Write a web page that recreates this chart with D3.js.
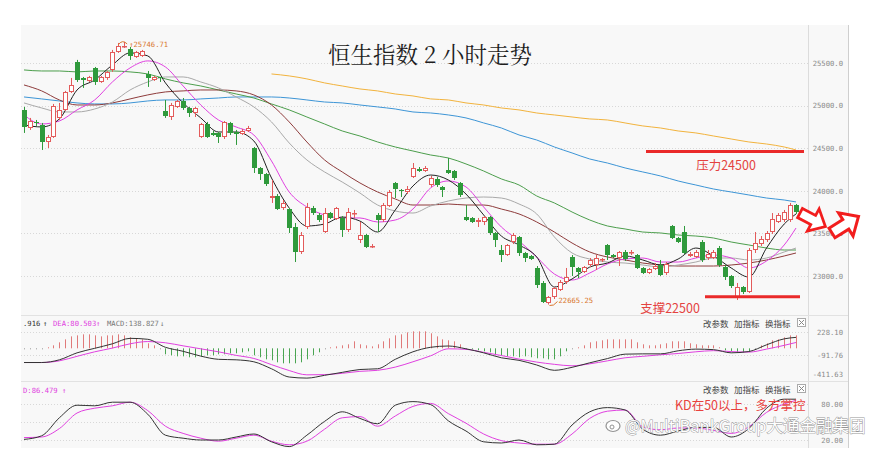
<!DOCTYPE html>
<html><head><meta charset="utf-8">
<script src="https://cdn.jsdelivr.net/npm/d3@7"></script>
<style>body{margin:0;background:#fff}svg{display:block}</style>
</head><body><svg id="c" width="870" height="458"></svg>
<script>
// ---------- DATA ----------
const opens=[24949,24737,24808,24772,24573,24632,24855,24949,25160,25512,
25324,25289,25442,25277,25324,25418,25630,25688,25665,25571,
25583,25371,25301,25336,24937,24866,24984,25054,24972,24913,
24632,24784,24679,24679,24632,24796,24690,24667,24702,24502,
24268,24197,23915,23939,23798,23786,23575,23282,23575,23798,
23716,23516,23739,23669,23681,23540,23728,23422,23481,23346,
23716,23657,23822,24092,24009,23986,24162,24256,24232,24068,
24139,24045,24244,24232,24092,23692,23681,23634,23634,23692,
23505,23305,23246,23399,23458,23270,23235,23094,22918,22683,
22753,22835,22929,23223,23094,23047,23129,23129,23188,23364,
23246,23211,23282,23264,23246,23094,23035,23082,23129,23035,
23587,23446,23516,23235,23223,23399,23211,23211,23328,23105,
23000,22753,22871,22812,23305,23375,23422,23516,23634,23657,
23657,23833];
const closes=[24749,24819,24796,24573,24632,24996,24949,25160,25242,25301,
25301,25336,25277,25336,25395,25630,25700,25700,25583,25630,
25641,25324,25336,25324,24878,25007,25054,24972,24913,24972,
24784,24632,24655,24632,24808,24679,24667,24702,24737,24268,
24197,24080,23939,23786,23857,23563,23282,23481,23810,23739,
23657,23739,23681,23798,23540,23751,23739,23481,23340,23352,
23657,23833,23986,24021,23998,24021,24268,24232,24268,24150,
24068,24009,24209,24150,23951,23657,23634,23657,23692,23505,
23422,23246,23364,23481,23270,23211,23199,22894,22695,22753,
22859,22929,22988,23105,23047,23105,23188,23211,23199,23246,
23223,23282,23199,23276,23094,23035,23082,23117,23011,23141,
23446,23399,23270,23258,23282,23188,23258,23282,23129,22988,
22882,22871,22812,23305,23387,23434,23505,23669,23716,23751,
23833,23751];
const highs=[24984,24855,24831,24796,24655,25019,25031,25172,25324,25536,
25336,25348,25453,25348,25406,25653,25735,25746.71,25688,25641,
25653,25406,25348,25336,25066,25031,25066,25089,24984,24984,
24796,24808,24702,24690,24819,24808,24714,24726,24761,24514,
24279,24209,24127,23962,23892,23798,23622,23516,23857,23822,
23739,23798,23751,23810,23704,23798,23775,23634,23493,23375,
23739,23857,24009,24103,24021,24056,24326,24279,24291,24174,
24162,24056,24385,24244,24103,23833,23692,23681,23704,23704,
23516,23364,23375,23505,23469,23282,23246,23117,22941,22765,
22871,22953,23094,23246,23105,23117,23211,23246,23211,23375,
23258,23293,23305,23305,23258,23105,23094,23152,23188,23164,
23598,23458,23587,23282,23305,23422,23305,23305,23352,23129,
23011,22918,22882,23328,23516,23469,23528,23739,23739,23775,
23857,23845];
const lows=[24679,24714,24761,24479,24502,24620,24831,24937,25148,25277,
25207,25277,25242,25266,25301,25395,25618,25676,25536,25559,
25571,25219,25289,25277,24855,24831,24972,24949,24866,24866,
24620,24620,24643,24561,24608,24655,24538,24655,24690,24209,
24127,24056,23857,23775,23775,23505,23164,23258,23552,23716,
23634,23505,23669,23657,23458,23516,23681,23387,23328,23328,
23516,23634,23810,23915,23927,23962,24150,24221,24221,24045,
24045,23927,24197,24127,23927,23645,23622,23575,23598,23481,
23340,23164,23235,23375,23235,23164,23188,22859,22683,22665.25,
22730,22824,22906,23000,22976,23035,23105,23070,23164,23188,
23211,23117,23176,23246,23082,23023,23023,23070,23000,23011,
23434,23387,23258,23223,23211,23164,23188,23199,23105,22953,
22859,22718,22788,22800,23270,23352,23399,23493,23622,23634,
23634,23728];

// moving averages, read every 3rd bar (last point = last bar)
const maStep=3;
const ma5=[24772,24749,24843,25183,25301,25477,25618,25583,25266,25031,
24855,24690,24690,24585,24150,23798,23587,23610,23692,23645,
23516,23775,24056,24185,24127,23962,23716,23469,23364,23223,
22871,22965,23105,23152,23235,23188,23129,23199,23328,23235,
23094,22988,23328,23610,23728];
const ma10=[24890,24784,24819,24949,25066,25277,25442,25524,25453,25230,
25007,24831,24749,24655,24350,23986,23810,23716,23681,23681,
23634,23657,23786,24033,24115,24045,23810,23575,23411,23223,
23023,22953,23035,23141,23199,23211,23164,23164,23211,23246,
23211,23094,23176,23364,23563];
const ma20=[25031,24972,24925,24925,24960,25042,25183,25277,25336,25336,
25277,25207,25101,24984,24808,24561,24362,24221,24103,23974,
23833,23763,23739,23822,23880,23915,23927,23915,23845,23728,
23458,23270,23199,23164,23152,23129,23105,23129,23164,23211,
23211,23188,23211,23282,23328];
const ma30=[25242,25172,25066,25007,25007,25031,25078,25125,25160,25172,
25183,25183,25172,25125,25007,24808,24573,24362,24221,24092,
23986,23904,23833,23833,23845,23833,23833,23786,23728,23634,
23516,23387,23282,23223,23188,23152,23129,23117,23117,23117,
23129,23152,23188,23235,23270];
const ma60=[25418,25406,25406,25395,25406,25406,25395,25371,25313,25266,
25230,25183,25136,25089,25019,24949,24866,24784,24702,24643,
24573,24514,24467,24420,24385,24315,24232,24139,24068,23939,
23857,23751,23657,23587,23552,23516,23505,23481,23469,23446,
23399,23364,23328,23305,23305];
const ma120=[25101,25078,25054,25031,25019,25019,25031,25054,25066,25066,
25078,25089,25101,25101,25101,25089,25066,25042,25031,25007,
24984,24960,24925,24913,24890,24855,24796,24737,24655,24596,
24514,24444,24373,24326,24268,24221,24174,24115,24068,24021,
23986,23951,23915,23892,23869];
const ma250=[null,null,null,null,null,null,null,null,null,null,null,null,null,null,
25371,25348,25313,25266,25230,25195,25172,25136,25113,25078,25066,25031,25007,24972,24949,
24913,24890,24866,24843,24831,24796,24761,24737,24702,24679,24643,24608,24573,24549,24514,24479];

// MACD
const difVals=[-195,-195,-158,-62,0,62,137,124,14,-41,
-107,-151,-158,-185,-281,-394,-409,-371,-330,-291,
-281,-151,-48,14,32,-7,-62,-130,-165,-229,
-302,-261,-199,-141,-80,-76,-76,-34,-11,-18,
-62,-44,48,130,150];
const deaVals=[-195,-195,-172,-110,-48,3,62,93,76,34,
-7,-48,-97,-139,-224,-305,-364,-361,-343,-316,
-302,-258,-185,-103,-7,-14,-55,-99,-148,-189,
-220,-240,-213,-172,-130,-110,-89,-71,-48,-32,
-45,-52,-11,41,80];
const macdHist=[-4,-4,-4,4,14,41,82,123,164,178,
192,192,178,164,178,178,192,178,151,137,
123,69,41,4,-82,-96,-110,-110,-123,-123,
-110,-96,-96,-82,-82,-69,-69,-55,-41,-96,
-123,-151,-164,-192,-206,-206,-206,-192,-151,-96,
-55,4,14,27,41,55,96,55,41,27,
55,96,137,178,192,219,233,233,233,206,
164,123,110,96,55,4,-14,-27,-41,-55,
-82,-96,-110,-110,-123,-110,-123,-137,-137,-151,
-151,-110,-41,4,14,41,82,96,110,123,
123,123,123,123,82,55,41,41,55,69,
96,96,96,69,55,41,41,41,14,-27,
-41,-55,-55,-41,4,41,69,110,123,151,
178,178];
// KD
const kVals=[21,27,57,78,77,83,83,63,28,23,20,20,25,30,17,9,28,51,67,56,
47,78,84,79,52,35,17,15,20,12,13,45,67,74,70,38,28,35,41,41,25,39,73,88,88];
const dVals=[24,25,39,65,73,77,83,69,43,31,23,18,23,28,18,12,18,38,57,59,
43,60,76,81,64,48,30,19,15,13,13,30,56,68,70,42,37,40,40,36,31,42,66,80,86];

const priceTicks=[23000,23500,24000,24500,25000,25500];
const macdTicks=[228.10,-91.76,-411.63];
const kdTicks=[80,20];
const kdGrid=[80,50,20];
const resistanceLevel=24460, supportLevel=22757;
const highIdx=17, lowIdx=89;

// ---------- DRAW ----------
const N=opens.length;
const svg=d3.select('#c');
const L=21,R=808,AX=848,T=25,B=448;
const mainBot=315, macdBot=381;
const x=d3.scaleLinear().domain([0,N-1]).range([24,796]);
const y=d3.scaleLinear().domain([22500,25800]).range([318.6,37.4]);
const ym=d3.scaleLinear().domain([-411.63,228.10]).range([378.3,331.7]);
const yk=d3.scaleLinear().domain([20,80]).range([440,404]);
const RED='#e35b5b', GRN='#2f9a3c';
const mono='"DejaVu Sans Mono","Liberation Mono",monospace';
const cjk='"Noto Sans CJK SC","Noto Sans",sans-serif';

svg.append('rect').attr('x',L).attr('y',T).attr('width',AX-L).attr('height',B-T).attr('fill','#f8f8f8');
svg.append('line').attr('x1',R+0.5).attr('x2',R+0.5).attr('y1',T).attr('y2',B).attr('stroke','#dcdcdc');
svg.append('line').attr('x1',AX+0.5).attr('x2',AX+0.5).attr('y1',T).attr('y2',B).attr('stroke','#cfcfcf');
[mainBot,macdBot].forEach(v=>svg.append('line').attr('x1',L).attr('x2',AX).attr('y1',v+0.5).attr('y2',v+0.5).attr('stroke','#e2e2e2'));

const defs=svg.append('defs');
function clip(id,y0,y1){defs.append('clipPath').attr('id',id).append('rect').attr('x',L).attr('y',y0).attr('width',R-L).attr('height',y1-y0);}
clip('cm',T,mainBot);clip('cd',mainBot,macdBot);clip('ck',macdBot,B);

// grids
const grid=svg.append('g').attr('stroke','#d8d8d8').attr('stroke-dasharray','1,2');
priceTicks.forEach(v=>grid.append('line').attr('x1',L).attr('x2',R).attr('y1',Math.round(y(v))+0.5).attr('y2',Math.round(y(v))+0.5));
macdTicks.slice(0,2).forEach(v=>grid.append('line').attr('x1',L).attr('x2',R).attr('y1',Math.round(ym(v))+0.5).attr('y2',Math.round(ym(v))+0.5));
kdGrid.forEach(v=>grid.append('line').attr('x1',L).attr('x2',R).attr('y1',Math.round(yk(v))+0.5).attr('y2',Math.round(yk(v))+0.5));

// axes (labels right-aligned in the side column)
function axis(scale,ticks,fmt,shift){
  const g=svg.append('g').attr('transform','translate(843,0)')
    .call(d3.axisLeft(scale).tickValues(ticks).tickFormat(fmt).tickSize(0).tickPadding(0));
  g.select('.domain').remove();
  g.selectAll('text').attr('font-family',mono).attr('font-size',7.2).attr('fill','#8a8a8a')
   .attr('dy',(d)=>shift?shift(d):'0.32em');
}
axis(y,priceTicks,d=>d.toFixed(1));
axis(ym,macdTicks,d=>d.toFixed(2),d=>d<-400?'-0.2em':'0.32em');
axis(yk,kdTicks,d=>d.toFixed(2));

// title
svg.append('text').attr('x',430).attr('y',63).attr('text-anchor','middle')
 .attr('font-family','"Noto Serif CJK SC","Noto Sans CJK SC",serif').attr('font-size',22.5).attr('fill','#1e1e1e')
 .text('恒生指数 2 小时走势');

// main panel
const gm=svg.append('g').attr('clip-path','url(#cm)');
const maIdx=k=>Math.min(k*maStep,N-1);
const maLine=d3.line().defined(d=>d!=null).x((d,k)=>x(maIdx(k))).y(d=>y(d)).curve(d3.curveMonotoneX);
[[ma250,'#f2b33d'],[ma120,'#3d95d6'],[ma60,'#4c9e4c'],[ma30,'#8e3b3b'],[ma20,'#a9a9a9'],[ma10,'#e040e0'],[ma5,'#222']]
 .forEach(([d,c])=>gm.append('path').datum(d).attr('d',maLine).attr('fill','none').attr('stroke',c).attr('stroke-width',1));

const cg=gm.append('g');
d3.range(N).forEach(i=>{
  const xi=Math.round(x(i)), up=closes[i]>=opens[i], col=up?RED:GRN;
  cg.append('line').attr('x1',xi+0.5).attr('x2',xi+0.5).attr('y1',y(highs[i])).attr('y2',y(lows[i])).attr('stroke',col);
  const yt=Math.round(y(Math.max(opens[i],closes[i]))), yb=Math.round(y(Math.min(opens[i],closes[i])));
  const h=Math.max(1,yb-yt);
  if(up){cg.append('rect').attr('x',xi-1.5).attr('y',yt+0.5).attr('width',4).attr('height',Math.max(0.5,h-1)).attr('fill','#fff').attr('stroke',col);}
  else {cg.append('rect').attr('x',xi-2).attr('y',yt).attr('width',5).attr('height',h).attr('fill',col);}
});

// high / low marks
const orange='#d9772e';
const hx=x(highIdx), hy=y(highs[highIdx]);
svg.append('path').attr('d',`M${hx-6},${hy+3} Q${hx-2},${hy-3} ${hx+3},${hy+2}`).attr('fill','none').attr('stroke',orange);
svg.append('text').attr('x',hx+5).attr('y',hy+5).attr('font-family',mono).attr('font-size',7.2).attr('fill',orange).text('\u219125746.71');
const lx=x(lowIdx), ly=y(lows[lowIdx]);
svg.append('path').attr('d',`M${lx+1},${ly+1} Q${lx+5},${ly+2} ${lx+9},${ly-3}`).attr('fill','none').attr('stroke',orange);
svg.append('text').attr('x',lx+10).attr('y',ly-2).attr('font-family',mono).attr('font-size',7.2).attr('fill',orange).text('22665.25');

// support / resistance
svg.append('line').attr('x1',646).attr('x2',804).attr('y1',y(resistanceLevel)).attr('y2',y(resistanceLevel)).attr('stroke','#ea2a2a').attr('stroke-width',3);
svg.append('line').attr('x1',705).attr('x2',800).attr('y1',y(supportLevel)).attr('y2',y(supportLevel)).attr('stroke','#ea2a2a').attr('stroke-width',3);
svg.append('text').attr('x',726).attr('y',170).attr('text-anchor','middle').attr('font-family',cjk).attr('font-size',12.5).attr('fill','#e4433f').text('压力24500');
svg.append('text').attr('x',670).attr('y',313).attr('text-anchor','middle').attr('font-family',cjk).attr('font-size',12.5).attr('fill','#e4433f').text('支撑22500');

// MACD panel
const gd=svg.append('g').attr('clip-path','url(#cd)');
macdHist.forEach((v,i)=>{
  const xi=Math.round(x(i))+0.5;
  const small=Math.abs(v)<10;
  gd.append('line').attr('x1',xi).attr('x2',xi).attr('y1',ym(0)).attr('y2',small?ym(0)+1:ym(v))
   .attr('stroke',small?'#999':(v>0?'#e07a7a':'#4aa552')).attr('stroke-width',1);
});
const mLine=d3.line().x((d,k)=>x(maIdx(k))).y(d=>ym(d)).curve(d3.curveMonotoneX);
gd.append('path').datum(deaVals).attr('d',mLine).attr('fill','none').attr('stroke','#e040e0');
gd.append('path').datum(difVals).attr('d',mLine).attr('fill','none').attr('stroke','#333');

// MACD header
const hdr=svg.append('g').attr('font-family',mono).attr('font-size',7.2);
hdr.append('text').attr('x',23).attr('y',326).attr('fill','#333').text('.916');
hdr.append('text').attr('x',43).attr('y',326).attr('fill','#333').text('\u2191');
hdr.append('text').attr('x',53).attr('y',326).attr('fill','#e040e0').text('DEA:80.503');
hdr.append('text').attr('x',96).attr('y',326).attr('fill','#e040e0').text('\u2191');
hdr.append('text').attr('x',107).attr('y',326).attr('fill','#777').text('MACD:138.827');
hdr.append('text').attr('x',160).attr('y',326).attr('fill','#777').text('\u2193');

function tools(yy){
  const g=svg.append('g').attr('font-family',cjk).attr('font-size',8.5).attr('fill','#444');
  g.append('text').attr('x',703).attr('y',yy).text('改参数');
  g.append('text').attr('x',734).attr('y',yy).text('加指标');
  g.append('text').attr('x',765).attr('y',yy).text('换指标');
  g.append('rect').attr('x',797.5).attr('y',yy-8.5).attr('width',8).attr('height',8).attr('fill','#fff').attr('stroke','#aaa');
  g.append('path').attr('d',`M${799},${yy-7} L${804},${yy-2} M${804},${yy-7} L${799},${yy-2}`).attr('stroke','#888');
}
tools(327);tools(393);

// KD panel
const gk=svg.append('g').attr('clip-path','url(#ck)');
const kLine=d3.line().x((d,k)=>x(maIdx(k))).y(d=>yk(d)).curve(d3.curveMonotoneX);
gk.append('path').datum(dVals).attr('d',kLine).attr('fill','none').attr('stroke','#e040e0');
gk.append('path').datum(kVals).attr('d',kLine).attr('fill','none').attr('stroke','#333');
svg.append('text').attr('x',23).attr('y',393).attr('font-family',mono).attr('font-size',7.2).attr('fill','#e040e0').text('D:86.479 \u2191');
svg.append('text').attr('x',675).attr('y',410).attr('font-family',cjk).attr('font-size',12.5).attr('fill','#e8423e').text('KD在50以上，多方掌控');

// arrows
const arrowPath='M0,-4.5 L13,-4.5 L13,-11 L25,0 L13,11 L13,4.5 L0,4.5 Z';
svg.append('path').attr('d',arrowPath).attr('transform','translate(800,213) rotate(28) scale(1.15)')
 .attr('fill','#fff').attr('stroke','#f21d1d').attr('stroke-width',2.4).attr('stroke-linejoin','miter');
svg.append('path').attr('d',arrowPath).attr('transform','translate(832,233) rotate(-32) scale(1.25)')
 .attr('fill','#fff').attr('stroke','#f21d1d').attr('stroke-width',2.4).attr('stroke-linejoin','miter');

// watermark
const wm=svg.append('g').attr('opacity',0.9);
wm.append('ellipse').attr('cx',613).attr('cy',426).attr('rx',7).attr('ry',5.5).attr('fill','#fff').attr('stroke','#888').attr('stroke-width',1.2);
wm.append('circle').attr('cx',612).attr('cy',427).attr('r',2).attr('fill','none').attr('stroke','#888');
wm.append('text').attr('x',625).attr('y',432).attr('font-family',cjk).attr('font-size',16.5)
 .attr('fill','#fff').attr('stroke','#8a8a8a').attr('stroke-width',0.9).attr('paint-order','stroke')
 .text('@MultiBankGroup大通金融集团');
</script></body></html>
